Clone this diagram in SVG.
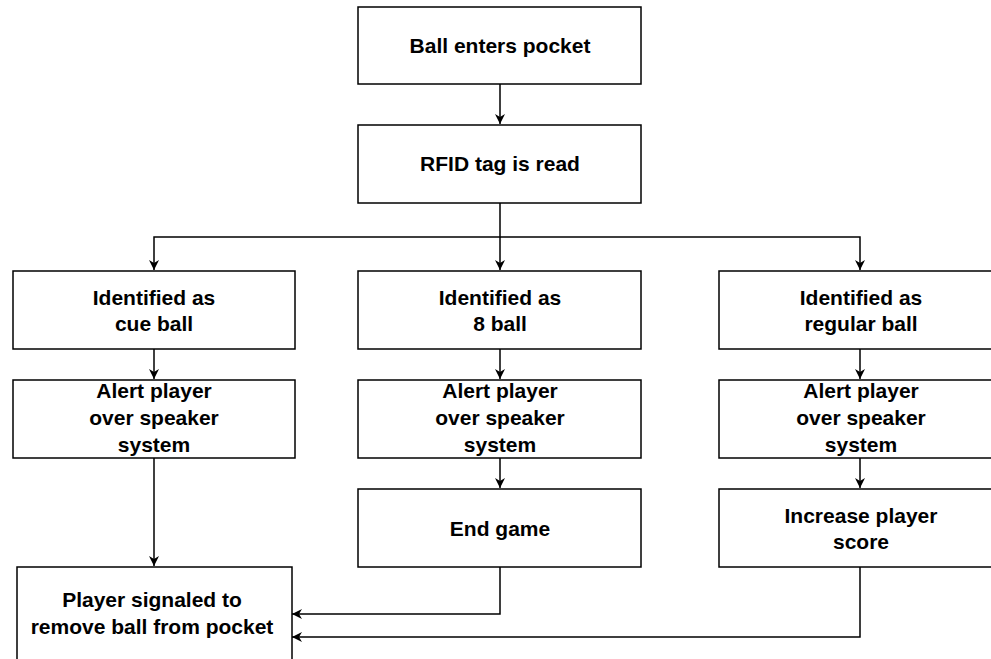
<svg xmlns="http://www.w3.org/2000/svg" width="991" height="659" viewBox="0 0 991 659">
<defs>
<style>
.box{fill:#fff;stroke:#000;stroke-width:1.5}
.t{font-family:"Liberation Sans",Arial,sans-serif;font-size:21px;font-weight:bold;fill:#000;text-anchor:middle}
.c{fill:none;stroke:#000;stroke-width:1.5}
</style>
<marker id="ah" viewBox="0 0 10 10" refX="10" refY="5" markerWidth="10" markerHeight="10" markerUnits="userSpaceOnUse" orient="auto">
<path d="M0,0 L10,5 L0,10 L3,5 Z" fill="#000"/>
</marker>
</defs>
<rect width="991" height="659" fill="#fff"/>
<g id="connectors">
<path class="c" d="M500,84 V124" marker-end="url(#ah)"/>
<path class="c" d="M500,203 V237 H154 V270" marker-end="url(#ah)"/>
<path class="c" d="M500,237 V270" marker-end="url(#ah)"/>
<path class="c" d="M500,237 H860 V270" marker-end="url(#ah)"/>
<path class="c" d="M154,349 V379" marker-end="url(#ah)"/>
<path class="c" d="M500,349 V379" marker-end="url(#ah)"/>
<path class="c" d="M860,349 V379" marker-end="url(#ah)"/>
<path class="c" d="M500,458 V488" marker-end="url(#ah)"/>
<path class="c" d="M860,458 V488" marker-end="url(#ah)"/>
<path class="c" d="M154,458 V566" marker-end="url(#ah)"/>
<path class="c" d="M500,567 V614 H292" marker-end="url(#ah)"/>
<path class="c" d="M860,567 V637 H292" marker-end="url(#ah)"/>
</g>
<g id="n1"><rect class="box" x="358" y="7" width="283" height="77"/><text class="t" x="500" y="53">Ball enters pocket</text></g>
<g id="n2"><rect class="box" x="358" y="125" width="283" height="78"/><text class="t" x="500" y="171">RFID tag is read</text></g>
<g id="n3"><rect class="box" x="13" y="271" width="282" height="78"/><text class="t" x="154" y="305">Identified as</text><text class="t" x="154" y="331">cue ball</text></g>
<g id="n4"><rect class="box" x="358" y="271" width="283" height="78"/><text class="t" x="500" y="305">Identified as</text><text class="t" x="500" y="331">8 ball</text></g>
<g id="n5"><rect class="box" x="719" y="271" width="284" height="78"/><text class="t" x="861" y="305">Identified as</text><text class="t" x="861" y="331">regular ball</text></g>
<g id="n6"><rect class="box" x="13" y="380" width="282" height="78"/><text class="t" x="154" y="398">Alert player</text><text class="t" x="154" y="425">over speaker</text><text class="t" x="154" y="452">system</text></g>
<g id="n7"><rect class="box" x="358" y="380" width="283" height="78"/><text class="t" x="500" y="398">Alert player</text><text class="t" x="500" y="425">over speaker</text><text class="t" x="500" y="452">system</text></g>
<g id="n8"><rect class="box" x="719" y="380" width="284" height="78"/><text class="t" x="861" y="398">Alert player</text><text class="t" x="861" y="425">over speaker</text><text class="t" x="861" y="452">system</text></g>
<g id="n9"><rect class="box" x="358" y="489" width="283" height="78"/><text class="t" x="500" y="536">End game</text></g>
<g id="n10"><rect class="box" x="719" y="489" width="284" height="78"/><text class="t" x="861" y="523">Increase player</text><text class="t" x="861" y="549">score</text></g>
<g id="n11"><rect class="box" x="17" y="567" width="275" height="96"/><text class="t" x="152" y="607">Player signaled to</text><text class="t" x="152" y="634">remove ball from pocket</text></g>
</svg>
